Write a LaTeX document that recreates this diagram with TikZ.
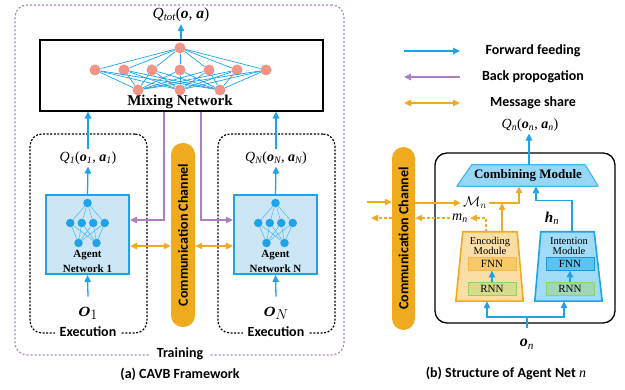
\documentclass[tikz,border=0pt]{standalone}
\usepackage{fontspec}
\setmainfont{Liberation Serif}
\setsansfont{Carlito}
\usepackage{amsmath,bm}
\usetikzlibrary{arrows.meta}
\newcommand\bitx[1]{\textbf{\textit{#1}}}
\newcommand\sbx[1]{\textsubscript{\itshape #1}}
\definecolor{cblue}{RGB}{30,162,232}
\definecolor{cpurp}{RGB}{172,128,192}
\definecolor{corange}{RGB}{242,170,32}
\definecolor{chanfill}{RGB}{240,170,30}
\definecolor{agfill}{RGB}{205,230,245}
\definecolor{salmon}{RGB}{240,148,136}
\definecolor{combfill}{RGB}{150,215,245}
\definecolor{combdraw}{RGB}{70,185,235}
\definecolor{encfill}{RGB}{251,222,165}
\definecolor{encfnn}{RGB}{248,200,105}
\definecolor{encfnnd}{RGB}{245,185,80}
\definecolor{encrnn}{RGB}{215,220,140}
\definecolor{rnnd}{RGB}{145,210,100}
\definecolor{intfill}{RGB}{160,220,248}
\definecolor{intfnn}{RGB}{90,195,240}
\definecolor{intfnnd}{RGB}{30,150,220}
\definecolor{intrnn}{RGB}{160,215,185}
\begin{document}
\begin{tikzpicture}[x=1pt,y=-1pt,
  tip/.tip={Triangle[length=7pt,width=6.5pt]},
  fwd/.style={draw=cblue, line width=1.3pt, -tip},
  fwdline/.style={draw=cblue, line width=1.3pt},
  back/.style={draw=cpurp, line width=1.3pt, -tip},
  msg/.style={draw=corange, line width=1.3pt, tip-tip},
  msgto/.style={draw=corange, line width=1.3pt, -tip},
  dmsg/.style={draw=corange, line width=1.3pt, dash pattern=on 3pt off 2pt, -tip},
  trainbox/.style={draw=cpurp, line width=1.2pt, dash pattern=on 2pt off 2pt, rounded corners=12pt},
  execbox/.style={draw=black, line width=1.2pt, dash pattern=on 2pt off 1.6pt, rounded corners=12pt},
  lbl/.style={font=\sffamily\bfseries\fontsize{14}{16}\selectfont, inner sep=2pt},
  agentbox/.style={draw=cblue, fill=agfill, line width=2.2pt},
  chan/.style={fill=chanfill, rounded corners=11.5pt},
  chantext/.style={rotate=90, font=\sffamily\bfseries\fontsize{14}{16}\selectfont},
  nnode/.style={circle, fill=salmon, minimum size=11pt, inner sep=0pt},
  inode/.style={circle, fill=cblue, minimum size=8.5pt, inner sep=0pt},
  nnedge/.style={draw=cblue, line width=0.7pt},
  iedge/.style={draw=cblue!80, line width=0.5pt},
  mathlbl/.style={font=\fontsize{14}{15}\selectfont, inner sep=2pt},
  anchorbox/.style={inner sep=0pt},
  smallbox/.style={line width=0.9pt, minimum width=48pt, minimum height=13pt, inner sep=0pt, font=\fontsize{11}{12}\selectfont},
  modlbl/.style={align=center, font=\fontsize{10.5}{10}\selectfont, inner sep=0pt},
]
\useasboundingbox (0,0) rectangle (625,390);

% ---------------- (a) CAVB framework ----------------
\node[trainbox, minimum width=329pt, minimum height=350pt] (train) at (179.5,180) {};
\node[lbl, fill=white, inner xsep=7pt] (trainlbl) at (180,354) {Training};

\node[execbox, minimum width=117pt, minimum height=199pt] (ex1) at (88.5,233.5) {};
\node[execbox, minimum width=117pt, minimum height=199pt] (exN) at (276.5,233.5) {};
\node[lbl, fill=white, inner xsep=5pt] (ex1lbl) at (88,332) {Execution};
\node[lbl, fill=white, inner xsep=5pt] (exNlbl) at (276,332) {Execution};

\node[draw=black, line width=1.1pt, minimum width=283pt, minimum height=71pt] (mix) at (181.5,75.5) {};
\node[font=\bfseries\fontsize{15}{15}\selectfont, inner sep=0pt] (mixlbl) at (180,102) {Mixing Network};

% mixing neural net
\node[nnode] (mt) at (180,48) {};
\foreach \i/\x in {1/95,2/124,3/152,4/180,5/209,6/237,7/266} {
  \node[nnode] (mm\i) at (\x,70) {};
}
\foreach \i/\x in {1/138,2/180,3/220} {
  \node[nnode] (mb\i) at (\x,90) {};
}
\foreach \i in {1,...,7} {
  \draw[nnedge] (mt) -- (mm\i);
  \foreach \j in {1,2,3} { \draw[nnedge] (mm\i) -- (mb\j); }
}

\node[mathlbl, font=\fontsize{15.5}{16}\selectfont] (qtot) at (181,15) {\textit{Q}\sbx{tot}(\bitx{o}, \bitx{a})};
\draw[fwd] (qtot.south |- mix.north) -- (qtot.south);

% agent networks
\node[agentbox, minimum width=83pt, minimum height=79pt] (ag1) at (87.5,234.5) {};
\node[agentbox, minimum width=83pt, minimum height=79pt] (agN) at (275.5,234.5) {};

\foreach \p/\cx in {A/87.5,B/275.5} {
  \node[inode] (\p t) at (\cx,203) {};
  \node[inode] (\p m1) at (\cx-17.25,223) {};
  \node[inode] (\p m2) at (\cx-5.75,223) {};
  \node[inode] (\p m3) at (\cx+5.75,223) {};
  \node[inode] (\p m4) at (\cx+17.25,223) {};
  \node[inode] (\p b1) at (\cx-9,243) {};
  \node[inode] (\p b2) at (\cx+9,243) {};
  \foreach \k in {1,2,3,4} {
    \draw[iedge] (\p t) -- (\p m\k);
    \draw[iedge] (\p m\k) -- (\p b1);
    \draw[iedge] (\p m\k) -- (\p b2);
  }
}
\node[align=center, font=\bfseries\fontsize{11}{14.5}\selectfont, inner sep=0pt] (ag1txt) at (87.5,261.5) {Agent\\Network 1};
\node[align=center, font=\bfseries\fontsize{11}{14.5}\selectfont, inner sep=0pt] (agNtxt) at (275.5,261.5) {Agent\\Network N};

\node[mathlbl] (q1) at (88,158) {\textit{Q}\sbx{1}(\bitx{o}\sbx{1}, \bitx{a}\sbx{1})};
\node[mathlbl] (qN) at (276,158) {\textit{Q}\sbx{N}(\bitx{o}\sbx{N}, \bitx{a}\sbx{N})};
\draw[fwd] (ag1.north) -- (q1.south);
\draw[fwd] (agN.north) -- (qN.south);
\draw[fwd] (q1.north) -- (q1.north |- mix.south);
\draw[fwd] (qN.north) -- (qN.north |- mix.south);

\node[font=\fontsize{21}{22}\selectfont, inner sep=0pt] (o1) at (88,313) {$\bm{o}_1$};
\node[font=\fontsize{21}{22}\selectfont, inner sep=0pt] (oN) at (276,313) {$\bm{o}_N$};
\draw[fwd] ([yshift=10pt]o1.north) -- (ag1.south);
\draw[fwd] ([yshift=10pt]oN.north) -- (agN.south);

% communication channel (a)
\node[chan, minimum width=24pt, minimum height=184pt] (ch1) at (183,235) {};
\node[chantext] (ch1txt) at (ch1.center) {Communication Channel};

% back propagation
\draw[back] ([xshift=-17.5pt]mix.south) |- ([yshift=14.5pt]ag1.east);
\draw[back] ([xshift=19.5pt]mix.south) |- ([yshift=14.5pt]agN.west);
% message share
\draw[msg] ([yshift=-11.5pt]ag1.east) -- ([yshift=-11.5pt]ag1.east -| ch1.west);
\draw[msg] ([yshift=-11.5pt]agN.west -| ch1.east) -- ([yshift=-11.5pt]agN.west);

\node[lbl] (capa) at (180,374) {(a) CAVB Framework};

% ---------------- legend ----------------
\coordinate (lf1) at (404,51); \coordinate (lf2) at (460,51);
\coordinate (lb1) at (404,77); \coordinate (lb2) at (460,77);
\coordinate (lm1) at (404,103); \coordinate (lm2) at (460,103);
\draw[fwd] (lf1) -- (lf2);
\draw[back] (lb2) -- (lb1);
\draw[msg] (lm1) -- (lm2);
\node[lbl] (lgf) at (533,51) {Forward feeding};
\node[lbl] (lgb) at (533,77) {Back propogation};
\node[lbl] (lgm) at (533,103) {Message share};

% ---------------- (b) agent structure ----------------
\node[draw=black, line width=1.3pt, rounded corners=12pt, minimum width=180pt, minimum height=170pt] (agbox) at (525,238) {};

\node[chan, minimum width=23pt, minimum height=183pt] (ch2) at (403.5,238.5) {};
\node[chantext] (ch2txt) at (ch2.center) {Communication Channel};

% combining module (trapezoid drawn on an anchor box)
\node[anchorbox, minimum width=141pt, minimum height=21pt] (comb) at (527.5,175.5) {};
\draw[draw=combdraw, fill=combfill, line width=1.2pt, line join=round]
  (comb.south west) -- ([xshift=15pt]comb.north west) -- ([xshift=-13pt]comb.north east) -- (comb.south east) -- cycle;
\node[font=\bfseries\fontsize{13}{14}\selectfont, inner sep=0pt] (combtxt) at (528,175.5) {Combining Module};

\node[anchorbox, minimum width=67pt, minimum height=69pt] (enc) at (489.5,266.5) {};
\draw[draw=corange, fill=encfill, line width=1.6pt]
  (enc.south west) -- ([xshift=7pt]enc.north west) -- ([xshift=-6pt]enc.north east) -- (enc.south east) -- cycle;
\node[anchorbox, minimum width=67pt, minimum height=69pt] (int) at (568.5,266.5) {};
\draw[draw=cblue, fill=intfill, line width=1.6pt]
  (int.south west) -- ([xshift=6pt]int.north west) -- ([xshift=-8pt]int.north east) -- (int.south east) -- cycle;
\node[modlbl] (enclbl) at (490,246) {Encoding\\Module};
\node[modlbl] (intlbl) at (569,246) {Intention\\Module};
\node[smallbox, draw=encfnnd, fill=encfnn] (encF) at (492,263.5) {FNN};
\node[smallbox, draw=rnnd, fill=encrnn] (encR) at (492,288.5) {RNN};
\node[smallbox, draw=intfnnd, fill=intfnn] (intF) at (570,263.5) {FNN};
\node[smallbox, draw=rnnd, fill=intrnn] (intR) at (570,288.5) {RNN};
\draw[fwd, line width=1.1pt] (encR.north) -- (encF.south);
\draw[fwd, line width=1.1pt] (intR.north) -- (intF.south);

\node[mathlbl] (qn) at (530,125) {\textit{Q}\sbx{n}(\bitx{o}\sbx{n}, \bitx{a}\sbx{n})};
\draw[fwd] ([xshift=1.5pt]comb.north) -- ([xshift=1.5pt]comb.north |- qn.south);

\node[mathlbl] (Mn) at (475,203) {$\mathcal{M}_n$};
\node[mathlbl] (mn) at (460,218) {\textit{m}\sbx{n}};
\node[mathlbl, font=\fontsize{15}{16}\selectfont] (hn) at (552,218) {\bitx{h}\sbx{n}};

\coordinate (cinL) at (367,202);
\coordinate (coutL) at (371,218);
\draw[msgto] (cinL) -- (ch2.west |- cinL);
\draw[msgto] (ch2.east |- Mn) -- (Mn.west);
\draw[msgto] (Mn.east) -| ([xshift=-8.5pt]comb.south);
\draw[msgto] ([xshift=12.5pt]enc.north) -- ([xshift=12.5pt]enc.north |- Mn);
\draw[dmsg] ([xshift=-3.5pt]enc.north) |- (mn.east);
\draw[dmsg] (mn.west) -- (ch2.east |- mn);
\draw[dmsg] (ch2.west |- mn) -- (coutL);

\draw[fwd] ([xshift=3.5pt]int.north) |- ([xshift=8.5pt,yshift=-14pt]comb.south) -- ([xshift=8.5pt]comb.south);

\node[font=\fontsize{16}{17}\selectfont, inner sep=0pt] (on) at (527,344) {\bitx{o}\sbx{n}};
\coordinate (ons) at (527,328);
\coordinate (onj) at (527,317);
\draw[fwdline] (ons) -- (onj);
\draw[fwd] (onj) -| ([xshift=-2.5pt]enc.south);
\draw[fwd] (onj) -| ([xshift=-4.5pt]int.south);

\node[lbl] (capb) at (506,373) {(b) Structure of Agent Net {\rmfamily\itshape\mdseries n}};
\end{tikzpicture}
\end{document}
